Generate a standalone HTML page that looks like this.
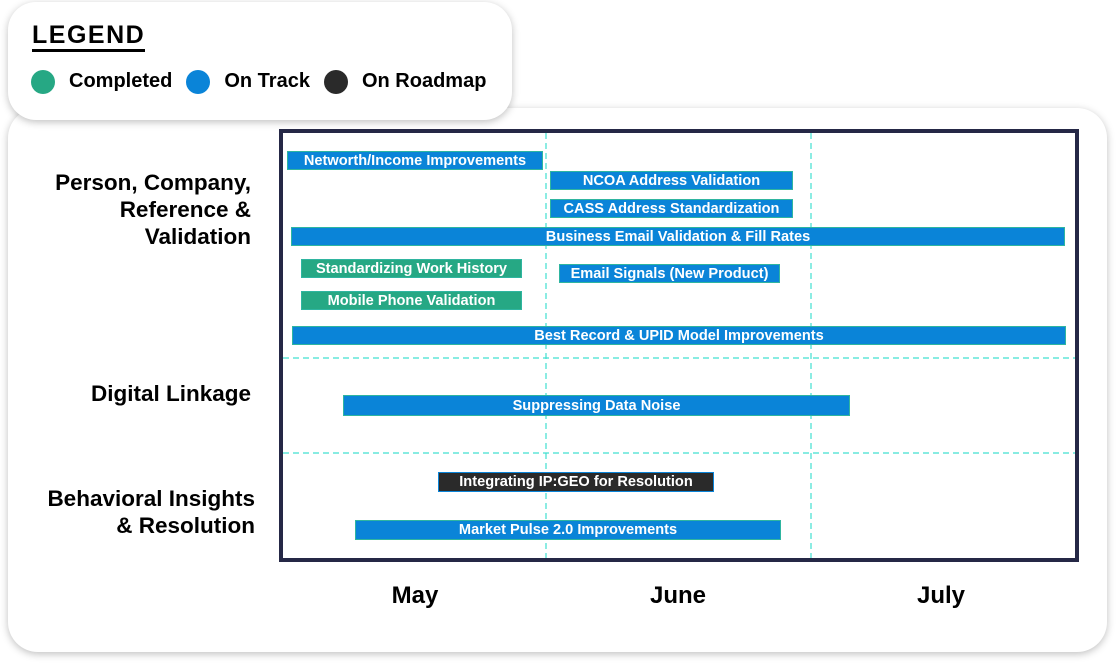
<!DOCTYPE html>
<html><head><style>
body{margin:0;width:1120px;height:667px;background:#fff;position:relative;overflow:hidden;font-family:"Liberation Sans",Arial,sans-serif}
.card{position:absolute;background:#fff;box-shadow:0 2px 8px rgba(0,0,0,.25)}
.b{position:absolute;height:19px;color:#fff;font-weight:bold;font-size:14.6px;line-height:19px;text-align:center;background:#0a84d8;border:1px solid #2fb5a0;box-sizing:border-box;white-space:nowrap}
.g{background:#26a884}
.lbl{position:absolute;font-weight:bold;font-size:22.5px;text-align:right;color:#000;line-height:27px;white-space:nowrap}
.m{position:absolute;font-weight:bold;font-size:24px;top:582px;width:120px;text-align:center}
.dot{display:inline-block;width:24px;height:24px;border-radius:50%;vertical-align:middle;margin-right:14px}
</style></head><body>
<div class="card" style="left:8px;top:108px;width:1099px;height:544px;border-radius:30px"></div>
<div class="card" style="left:8px;top:2px;width:504px;height:118px;border-radius:28px"></div>
<div style="position:absolute;left:32px;top:22px;font-weight:bold;font-size:25px;letter-spacing:1.5px;border-bottom:3px solid #000;line-height:27px">LEGEND</div>
<div style="position:absolute;left:31px;top:68px;font-weight:bold;font-size:20px;line-height:26px;white-space:nowrap">
<span class="dot" style="background:#26a884"></span>Completed<span class="dot" style="background:#0a84d8;margin-left:14px"></span>On Track<span class="dot" style="background:#2a2a2a;margin-left:14px"></span>On Roadmap</div>
<div style="position:absolute;left:279px;top:129px;width:800px;height:433px;border:4px solid #252846;box-sizing:border-box"></div>
<svg style="position:absolute;left:0;top:0" width="1120" height="667">
<g stroke="#40e0d0" stroke-width="1.2" stroke-dasharray="6,4">
<line x1="546" y1="133" x2="546" y2="558"/><line x1="811" y1="133" x2="811" y2="558"/>
<line x1="283" y1="358" x2="1075" y2="358"/><line x1="283" y1="453" x2="1075" y2="453"/>
</g></svg>
<div class="b" style="left:287px;top:151px;width:256px">Networth/Income Improvements</div>
<div class="b" style="left:550px;top:171px;width:243px">NCOA Address Validation</div>
<div class="b" style="left:550px;top:199px;width:243px">CASS Address Standardization</div>
<div class="b" style="left:291px;top:227px;width:774px">Business Email Validation &amp; Fill Rates</div>
<div class="b g" style="left:301px;top:259px;width:221px">Standardizing Work History</div>
<div class="b" style="left:559px;top:264px;width:221px">Email Signals (New Product)</div>
<div class="b g" style="left:301px;top:291px;width:221px">Mobile Phone Validation</div>
<div class="b" style="left:292px;top:326px;width:774px">Best Record &amp; UPID Model Improvements</div>
<div class="b" style="left:343px;top:395px;width:507px;height:21px;line-height:21px">Suppressing Data Noise</div>
<div class="b" style="left:438px;top:472px;width:276px;height:20px;background:#2a2a2a;border-color:#0a84d8">Integrating IP:GEO for Resolution</div>
<div class="b" style="left:355px;top:520px;width:426px;height:20px">Market Pulse 2.0 Improvements</div>
<div class="lbl" style="right:869px;top:169px">Person, Company,<br>Reference &amp;<br>Validation</div>
<div class="lbl" style="right:869px;top:380px">Digital Linkage</div>
<div class="lbl" style="right:865px;top:485px">Behavioral Insights<br>&amp; Resolution</div>
<div class="m" style="left:355px">May</div>
<div class="m" style="left:618px">June</div>
<div class="m" style="left:881px">July</div>
</body></html>
